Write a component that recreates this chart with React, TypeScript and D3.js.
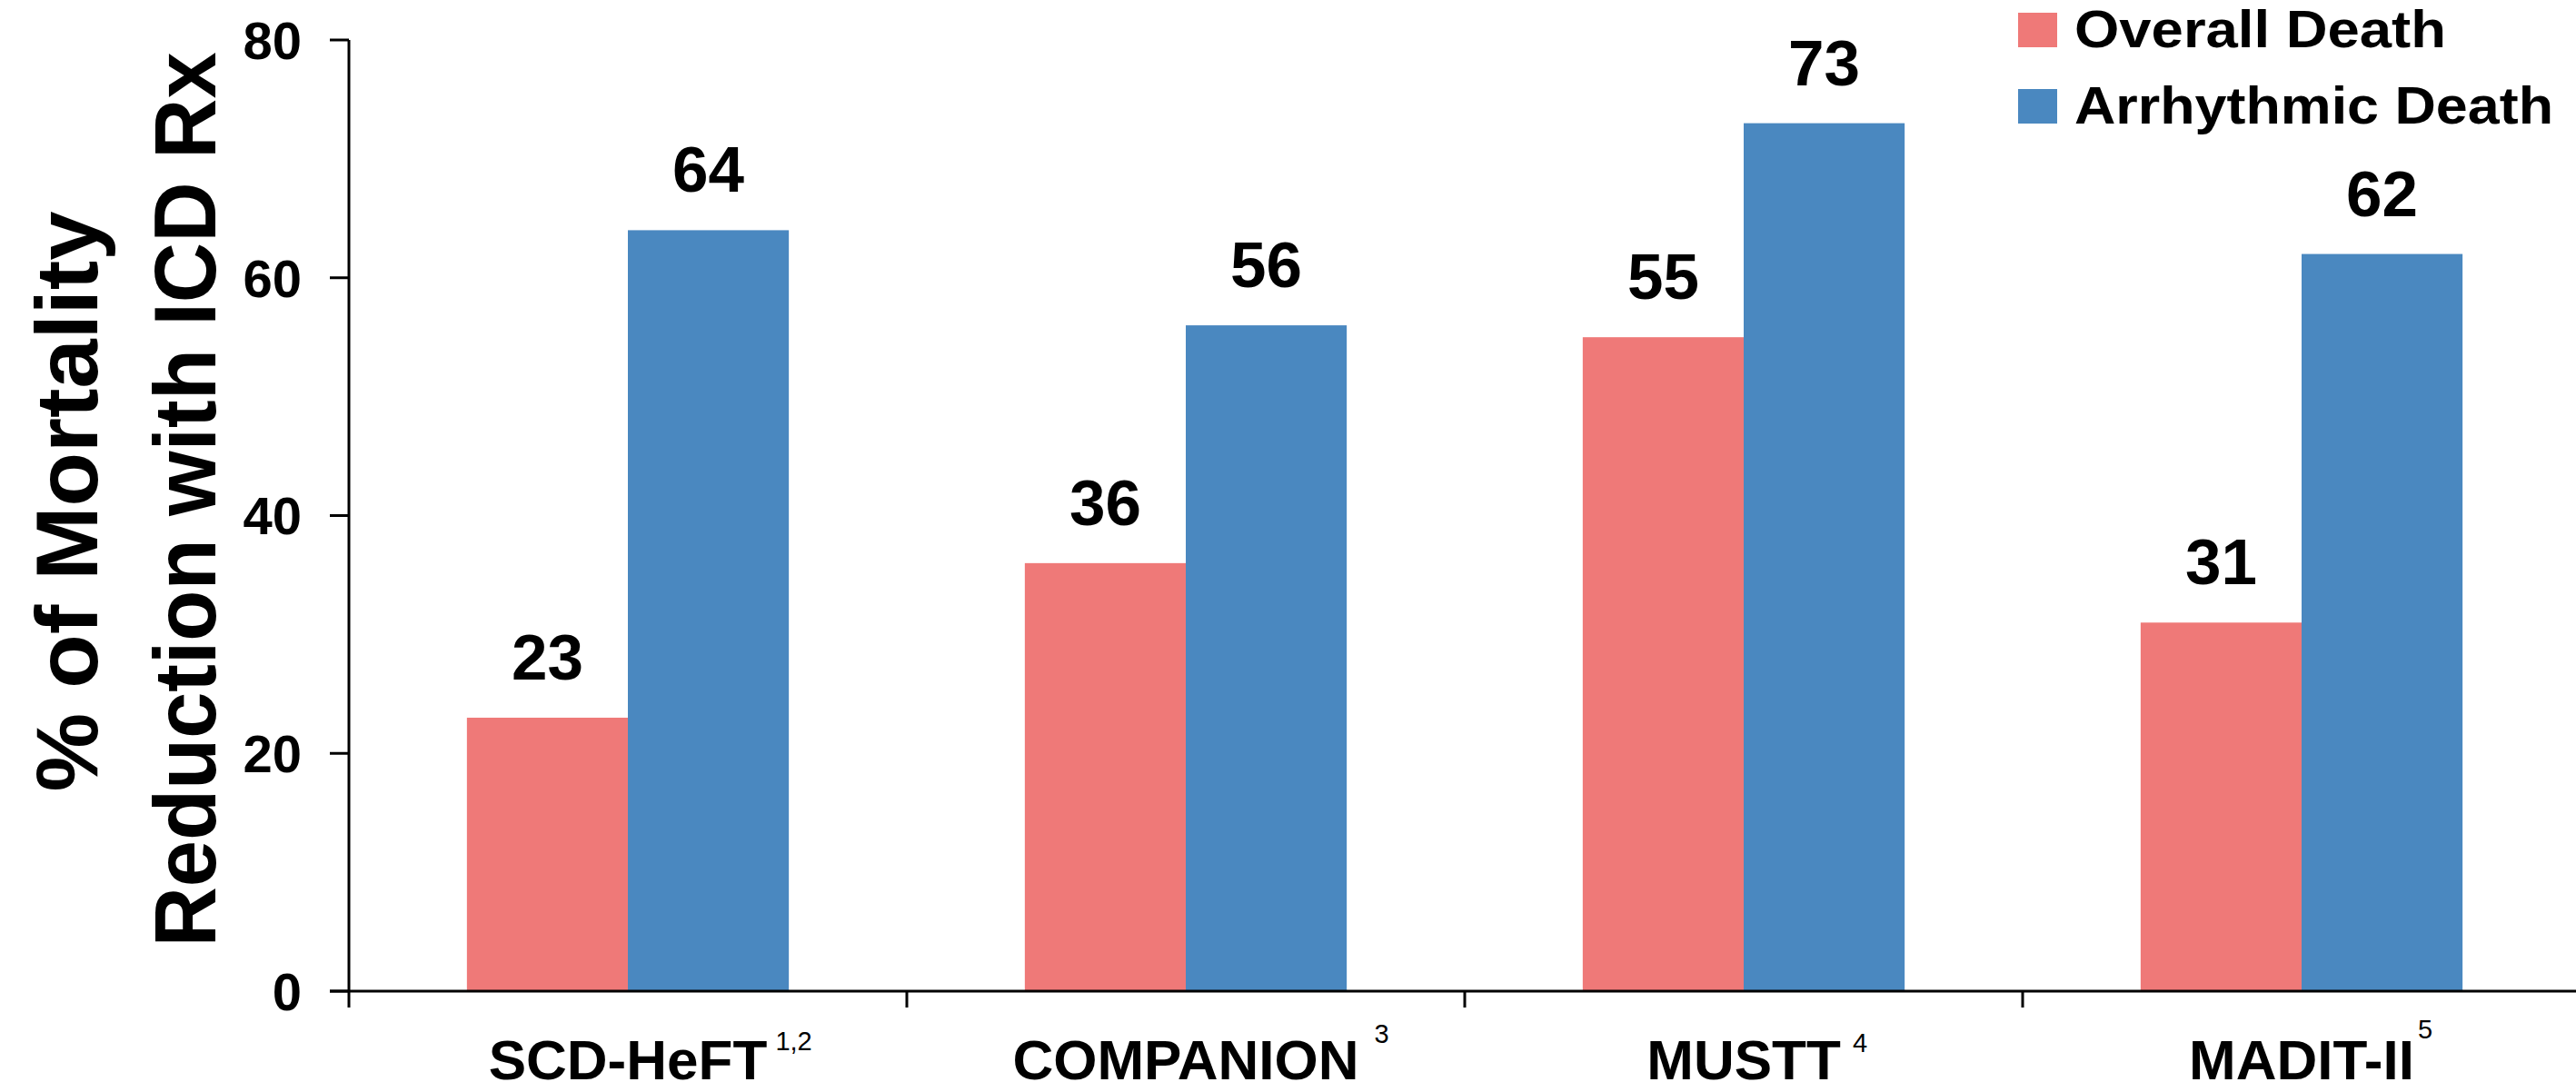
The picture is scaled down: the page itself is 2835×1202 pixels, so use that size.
import React, { useEffect } from "react";
import * as d3 from "d3";

// Trials on the x axis, with their reference superscripts
const trials = ["SCD-HeFT", "COMPANION", "MUSTT", "MADIT-II"];
const trialRefs = ["1,2", "3", "4", "5"];
// Vertical lift of each reference mark above the label baseline
const refLift = [32, 40, 30, 45];
// Gap between label end and reference mark
const refGap = [9, 17, 13, 4];

const seriesNames = ["Overall Death", "Arrhythmic Death"];
const overallDeath = [23, 36, 55, 31];
const arrhythmicDeath = [64, 56, 73, 62];
const seriesColors = ["#EF7978", "#4A88C0"];

const yTicks = [0, 20, 40, 60, 80];
const yTitleLines = ["% of Mortality", "Reduction with ICD Rx"];

const W = 2835;
const H = 1202;
const FONT = "'Liberation Sans', Arial, Helvetica, sans-serif";
const NARROW = "'Liberation Sans Narrow', 'Arial Narrow', 'Liberation Sans', Arial, sans-serif";

export default function App() {
  useEffect(() => {
    document.body.style.margin = "0";
    document.body.style.overflow = "hidden";
  }, []);

  const axisX = 384;
  const step = 614;
  const x0 = d3
    .scaleBand<string>()
    .domain(trials)
    .range([axisX, axisX + step * trials.length])
    .paddingInner(0)
    .paddingOuter(0);
  const groupW = x0.bandwidth() * 0.577;
  const x1 = d3
    .scaleBand<string>()
    .domain(seriesNames)
    .range([-groupW / 2, groupW / 2])
    .padding(0);
  const y = d3.scaleLinear().domain([0, 80]).range([1091, 44]);

  const values = [overallDeath, arrhythmicDeath];
  const labelBaseline = 1188;

  return (
    <svg
      width={W}
      height={H}
      style={{ display: "block", position: "absolute", left: 0, top: 0, background: "#fff" }}
      fontFamily={FONT}
    >
      <rect x={0} y={0} width={W} height={H} fill="#fff" />

      {/* Y axis title */}
      {yTitleLines.map((t, i) => {
        const bx = i === 0 ? 107 : 237;
        const cy = i === 0 ? 552 : 550;
        const len = i === 0 ? 639 : 985;
        return (
          <text
            key={t}
            transform={`translate(${bx},${cy}) rotate(-90)`}
            textAnchor="middle"
            fontWeight="bold"
            fontSize={96}
            textLength={len}
            lengthAdjust="spacingAndGlyphs"
            fill="#000"
          >
            {t}
          </text>
        );
      })}

      {/* Bars */}
      {trials.map((c, ci) => (
        <g key={c} transform={`translate(${x0(c)! + x0.bandwidth() / 2},0)`}>
          {seriesNames.map((s, si) => {
            const v = values[si][ci];
            return (
              <g key={s}>
                <rect
                  x={x1(s)!}
                  y={y(v)}
                  width={x1.bandwidth()}
                  height={y(0) - y(v)}
                  fill={seriesColors[si]}
                />
                <text
                  x={x1(s)! + x1.bandwidth() / 2}
                  y={y(v) - 42}
                  textAnchor="middle"
                  fontWeight="bold"
                  fontSize={71}
                  fill="#000"
                >
                  {v}
                </text>
              </g>
            );
          })}
        </g>
      ))}

      {/* Y axis */}
      <line x1={axisX} x2={axisX} y1={y(80)} y2={y(0) + 18} stroke="#000" strokeWidth={3} />
      {yTicks.map((t) => (
        <g key={t}>
          <line x1={axisX - 21} x2={axisX} y1={y(t)} y2={y(t)} stroke="#000" strokeWidth={3} />
          <text
            x={332}
            y={y(t)}
            dy="0.36em"
            textAnchor="end"
            fontWeight="bold"
            fontSize={58}
            fill="#000"
          >
            {t}
          </text>
        </g>
      ))}

      {/* X axis */}
      <line x1={axisX - 21} x2={W} y1={y(0)} y2={y(0)} stroke="#000" strokeWidth={3} />
      {trials.slice(1).map((c) => (
        <line key={c} x1={x0(c)!} x2={x0(c)!} y1={y(0)} y2={y(0) + 18} stroke="#000" strokeWidth={3} />
      ))}

      {/* Category labels with reference marks */}
      {trials.map((c, ci) => {
        const cx = x0(c)! + x0.bandwidth() / 2;
        return (
          <g key={c}>
            <text
              x={cx}
              y={labelBaseline}
              textAnchor="middle"
              fontWeight="bold"
              fontSize={62}
              fill="#000"
              ref={(el) => {
                if (!el) return;
                const bb = el.getBBox();
                const sup = el.nextSibling as SVGTextElement | null;
                if (sup) sup.setAttribute("x", String(bb.x + bb.width + refGap[ci]));
              }}
            >
              {c}
            </text>
            <text
              x={cx}
              y={labelBaseline - refLift[ci]}
              fontFamily={NARROW}
              fontSize={29}
              fill="#000"
            >
              {trialRefs[ci]}
            </text>
          </g>
        );
      })}

      {/* Legend */}
      {seriesNames.map((s, i) => (
        <g key={s} transform={`translate(2221,${14 + i * 84})`}>
          <rect x={0} y={0} width={43} height={38} fill={seriesColors[i]} />
          <text
            x={62}
            y={38}
            fontWeight="bold"
            fontSize={58}
            textLength={i === 0 ? 409 : 527}
            lengthAdjust="spacingAndGlyphs"
            fill="#000"
          >
            {s}
          </text>
        </g>
      ))}
    </svg>
  );
}
